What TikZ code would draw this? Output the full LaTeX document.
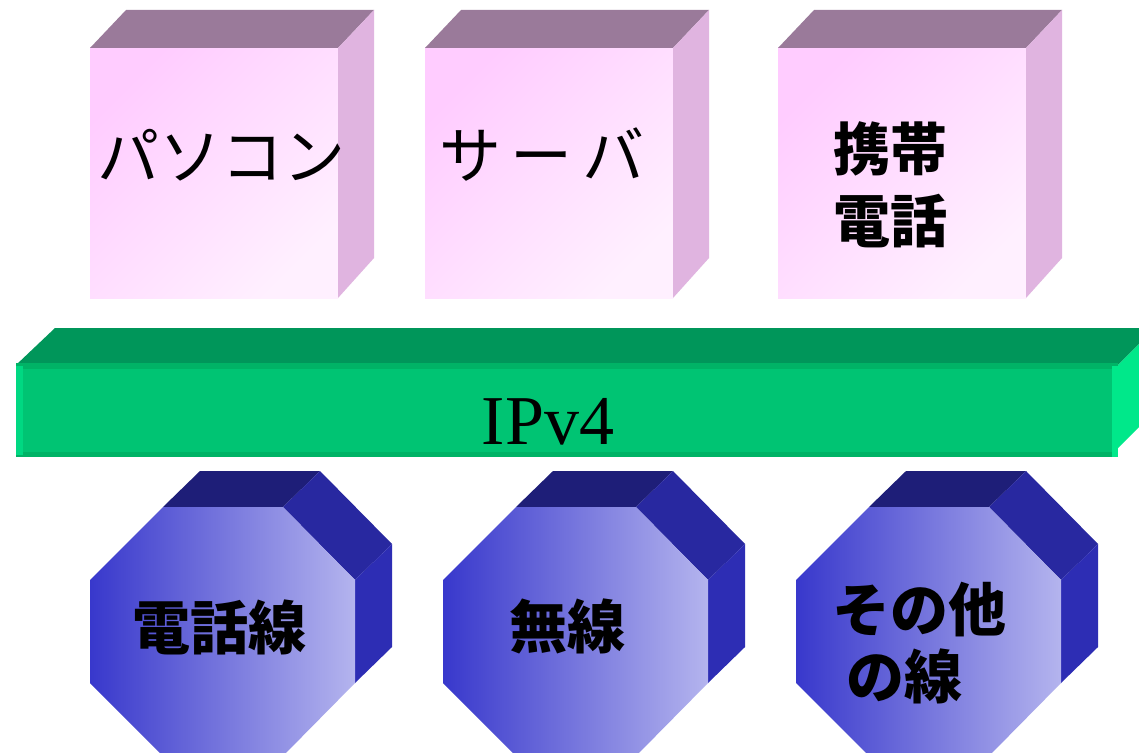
\documentclass[tikz,border=0pt]{standalone}
\usepackage{fontspec}
\setmainfont{Liberation Serif}
\newfontfamily\jpfont{Noto Sans CJK JP}
\definecolor{cubetop}{HTML}{9A7A9A}
\definecolor{cubeside}{HTML}{E0B4E0}
\definecolor{cubelight}{HTML}{FFF0FF}
\definecolor{cubedark}{HTML}{FFCCFF}
\definecolor{bartop}{HTML}{00965A}
\definecolor{barfront}{HTML}{00C473}
\definecolor{barband}{HTML}{00B366}
\definecolor{barleft}{HTML}{00D882}
\definecolor{barside}{HTML}{00E88A}
\definecolor{octtop}{HTML}{1E1E78}
\definecolor{octcorner}{HTML}{2828A0}
\definecolor{octside}{HTML}{2D2DB4}
\definecolor{octleft}{HTML}{3838CC}
\definecolor{octright}{HTML}{B4B4EE}
\begin{document}
\begin{tikzpicture}[x=1pt,y=-1pt,
  kana/.style={font=\jpfont\fontsize{62}{72}\selectfont,inner sep=0pt},
  kanji/.style={font=\jpfont\bfseries\fontsize{58}{68}\selectfont,inner sep=0pt,align=center}]
\clip (0,0) rectangle (1139,752);
\fill[white] (0,0) rectangle (1139,752);
\foreach \x in {90,425,778} {
  \shade[top color=cubedark,bottom color=cubelight,shading angle=45] (\x,48) rectangle ++(248,250);
  \fill[cubetop] (\x,48) -- ++(36,-38) -- ++(248,0) -- ++(-36,38) -- cycle;
  \fill[cubeside] (\x+248,48) -- ++(36,-38) -- ++(0,248) -- ++(-36,40) -- cycle;
}
\fill[bartop] (16,365) -- (55,328) -- (1155,328) -- (1118,365) -- cycle;
\fill[barside] (1118,365) -- (1155,328) -- (1155,411) -- (1118,448) -- cycle;
\fill[barfront] (16,365) rectangle (1118,457);
\fill[barband] (16,363) rectangle (1118,369);
\fill[barband] (16,452) rectangle (1118,457);
\fill[barleft] (16,366) rectangle (23,455);
\fill[barside] (1112,366) rectangle (1118,457);
\foreach \x in {90,443,796} {
  \fill[octtop] (\x+73,507) -- ++(37,-36) -- ++(120,0) -- ++(-37,36) -- cycle;
  \fill[octcorner] (\x+193,507) -- ++(37,-36) -- ++(72,73) -- ++(-37,36) -- cycle;
  \fill[octside] (\x+265,580) -- ++(37,-36) -- ++(0,103) -- ++(-37,36) -- cycle;
  \shade[left color=octleft,right color=octright] (\x+73,507) -- ++(120,0) -- ++(72,73)
    -- ++(0,103) -- ++(-72,73) -- ++(-120,0) -- ++(-73,-73) -- ++(0,-103) -- cycle;
}
\node[kana] (pc) at (221,155) {パソコン};
\node[kana] (server) at (542,155) {サ\hspace{10pt}ー\hspace{10pt}バ};
\node[kanji,font=\jpfont\bfseries\fontsize{57}{72}\selectfont] (phone) at (890,185) {携帯\\電話};
\node[anchor=base,inner sep=0pt,font=\fontsize{70}{84}\selectfont] (ipv4) at (548,444) {IPv4};
\node[kanji] (phoneline) at (219,627) {電話線};
\node[kanji] (wireless) at (567,626) {無線};
\node[kanji,align=left,font=\jpfont\bfseries\fontsize{58}{67}\selectfont] (other) at (919,643) {その他\\\hspace*{14pt}の線};
\end{tikzpicture}
\end{document}
